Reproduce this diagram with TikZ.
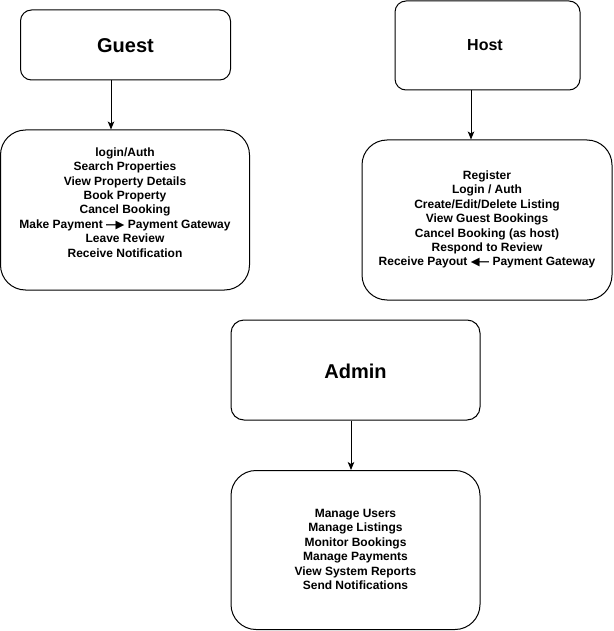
\documentclass[tikz,border=0pt]{standalone}
\usepackage{fontspec}
\setmainfont{Liberation Sans}
\newfontfamily\dvfont{DejaVu Sans}
\usetikzlibrary{arrows.meta}
\newcommand\myrarr{—\kern-0.2em{\dvfont\fontsize{11.5}{11.5}\selectfont ▶}}
\newcommand\mylarr{{\dvfont\fontsize{11.5}{11.5}\selectfont ◀}\kern-0.2em—}
\begin{document}
\begin{tikzpicture}[x=1pt,y=-1pt, line width=1pt,
  rolebox/.style={draw, rounded corners=11pt, inner sep=0pt},
  listbox/.style={draw, rounded corners=25pt, minimum height=160pt, inner sep=0pt},
  listtext/.style={align=center, inner sep=0pt, font=\fontsize{12}{14.4}\selectfont\bfseries},
  bigtitle/.style={font=\fontsize{20}{24}\selectfont\bfseries},
  arr/.style={-{Stealth[length=8pt,width=6.5pt,inset=2pt]}}]
\useasboundingbox (0,0) rectangle (613,631);

% role boxes
\node[rolebox, minimum width=210pt, minimum height=70pt] (guest) at (125.5,45) {};
\node[bigtitle] (guestt) at (125.5,46) {Guest};
\node[rolebox, minimum width=185pt, minimum height=89pt] (host) at (487.5,45.5) {};
\node[font=\fontsize{16}{19}\selectfont\bfseries] (hostt) at (485,45) {Host};
\node[rolebox, rounded corners=13pt, minimum width=249pt, minimum height=100pt] (admin) at (355.5,370) {};
\node[bigtitle] (admint) at (355.5,371) {Admin};

% detail boxes
\node[listbox, minimum width=249pt] (gd) at (125,210) {};
\node[listtext] (gdt) at (125,202.5) {login/Auth\\Search Properties\\View Property Details\\Book Property\\Cancel Booking\\Make Payment \myrarr{} Payment Gateway\\Leave Review\\Receive Notification};

\node[listbox, minimum width=250pt] (hd) at (487,220) {};
\node[listtext] (hdt) at (487,219.5) {Register\\Login / Auth\\Create/Edit/Delete Listing\\View Guest Bookings\\Cancel Booking (as host)\\Respond to Review\\Receive Payout \mylarr{} Payment Gateway};

\node[listbox, minimum width=249pt, minimum height=159pt] (ad) at (355.5,550) {};
\node[listtext] (adt) at (355.5,549.5) {Manage Users\\Manage Listings\\Monitor Bookings\\Manage Payments\\View System Reports\\Send Notifications};

% arrows
\coordinate (gx) at (111,0);
\coordinate (hx) at (471,0);
\coordinate (ax) at (351,0);
\draw[arr] (guest.south -| gx) -- (gd.north -| gx);
\draw[arr] (host.south -| hx) -- (hd.north -| hx);
\draw[arr] (admin.south -| ax) -- (ad.north -| ax);
\end{tikzpicture}
\end{document}
